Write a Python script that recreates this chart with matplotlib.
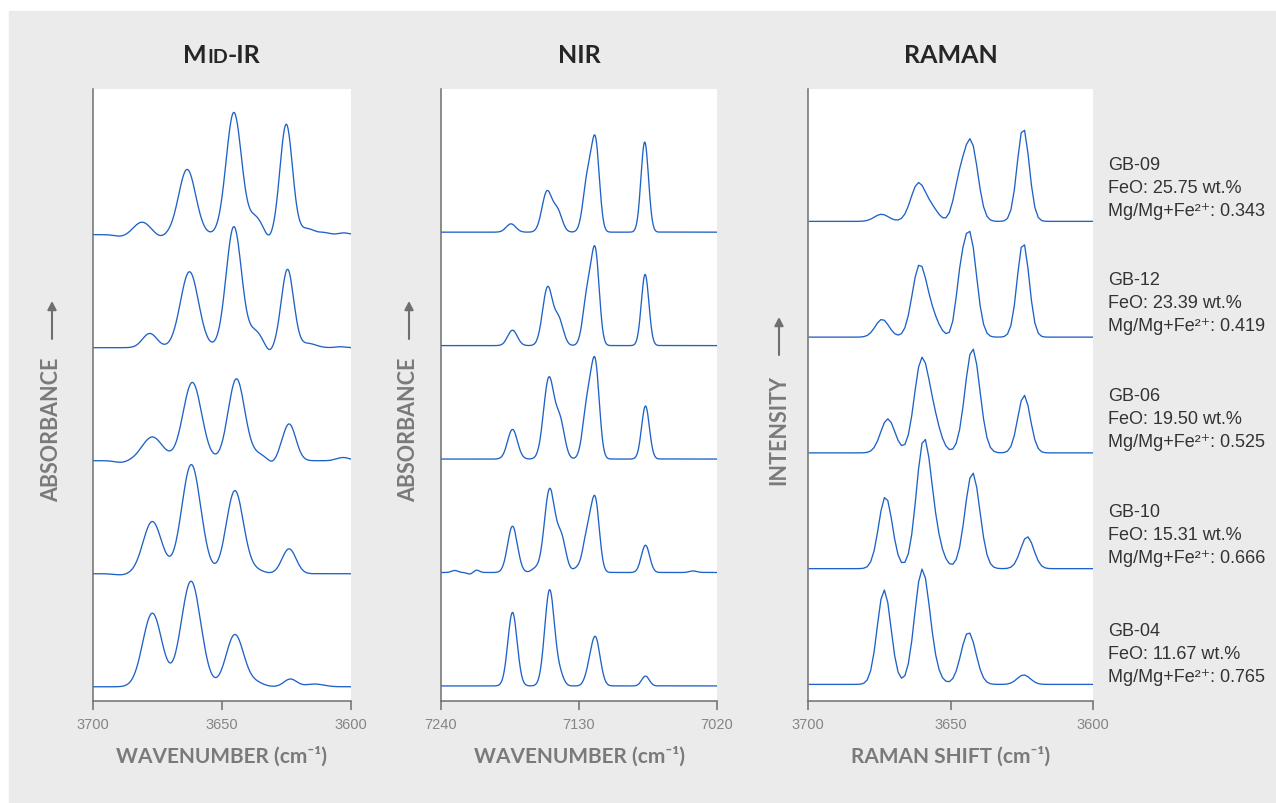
"""Stacked Mid-IR / NIR / Raman spectra of five garnet samples.

Band positions, heights and widths were read off the reference figure;
each trace is drawn as the sum of its bands, offset vertically.
"""
import numpy as np
import matplotlib
matplotlib.use("Agg")
import matplotlib.pyplot as plt
from matplotlib.patches import Rectangle, FancyArrowPatch

W, H = 1276, 804

SAMPLES = ["GB-09", "GB-12", "GB-06", "GB-10", "GB-04"]
FEO = ["25.75", "23.39", "19.50", "15.31", "11.67"]
MG_RATIO = ["0.343", "0.419", "0.525", "0.666", "0.765"]

# (position cm-1, height, width) per band, samples in SAMPLES order
MIDIR_BANDS = [
    [(3689, -1.5, 2.5), (3681, 10.5, 3.2), (3674, -2.0, 2.0), (3663.5, 55, 3.3),
     (3645.4, 103, 3.0), (3637, 14, 2.6), (3631.8, -4, 1.5), (3625.1, 93, 2.4),
     (3617, 5, 3.0), (3610, 1.5, 2.0), (3602.7, 1.5, 2.0)],
    [(3678, 12, 2.8), (3662.6, 64, 3.5), (3645.4, 102, 3.0), (3637, 13, 2.6),
     (3631.6, -4, 1.5), (3624.6, 66, 2.4), (3616.5, 3.5, 3.0), (3604, 0.8, 2.0)],
    [(3689, -1.5, 2.5), (3677, 20, 4.0), (3661.5, 66, 3.6), (3644.4, 69, 3.2),
     (3636, 5, 3.0), (3630.6, -2.5, 1.5), (3624, 31, 2.6), (3603, 2.7, 2.5)],
    [(3689, -1.0, 2.5), (3677, 44, 3.6), (3661.9, 92, 3.7), (3645, 70, 3.3),
     (3637, 3, 3.0), (3624, 21, 2.7)],
    [(3677, 62, 3.7), (3662, 89, 3.8), (3645, 44, 3.4), (3637, 3.5, 3.0),
     (3623.5, 6.5, 2.5), (3614, 2.3, 3.5)],
]
NIR_BANDS = [
    [(7184.2, 7, 3.8), (7155.5, 34, 4.0), (7147, 17, 3.6), (7123, 46, 3.6),
     (7116.7, 70, 3.1), (7077.6, 76, 3.0)],
    [(7183, 13, 3.8), (7155, 49, 4.0), (7146, 21, 3.6), (7123, 45, 3.6),
     (7116.8, 72, 3.1), (7077.3, 60, 3.0)],
    [(7183, 25, 3.9), (7154, 68, 4.2), (7145, 30, 3.6), (7123, 48, 3.7),
     (7116.8, 72, 3.2), (7077, 44.7, 3.1)],
    [(7229, 1.7, 2.5), (7217, -1.3, 2.2), (7211.5, 2.0, 2.2), (7183, 39, 3.9),
     (7165, 3, 3.0), (7153.4, 70, 4.2), (7144, 28, 3.6), (7132, 3, 3.0),
     (7123, 34, 3.7), (7116.8, 55, 3.2), (7077, 23, 3.3), (7039, 1.3, 3.0)],
    [(7183, 62, 3.7), (7153.4, 81, 3.9), (7145, 8, 3.0), (7123, 6, 3.0),
     (7117, 41, 3.8), (7077, 8.3, 3.0)],
]
RAMAN_BANDS = [
    [(3674.2, 6, 2.5), (3661.3, 32, 2.6), (3656.3, 9, 2.2), (3647, 28, 2.0),
     (3642.8, 66, 2.4), (3624.5, 79, 2.1)],
    [(3674, 15, 2.4), (3661, 58, 2.5), (3656.5, 16, 2.5), (3646.8, 28, 1.6),
     (3643.3, 87, 2.4), (3624.5, 80, 2.1)],
    [(3672, 28.7, 2.5), (3660.3, 74, 2.5), (3656, 26, 2.5), (3642.3, 88, 2.6),
     (3624.2, 48.7, 2.2)],
    [(3672.8, 60.7, 2.4), (3659.4, 106, 2.6), (3655, 18, 2.5), (3642.3, 81, 2.6),
     (3623.1, 27, 2.3)],
    [(3673.3, 79.7, 2.4), (3660, 95, 2.6), (3656, 8, 2.5), (3643.7, 44, 2.6),
     (3624.3, 8, 2.3)],
]

TITLES = [[("M", 18), ("ID", 14), ("-IR", 18)], [("NIR", 18)], [("RAMAN", 18)]]
XLABELS = ["WAVENUMBER (cm⁻¹)", "WAVENUMBER (cm⁻¹)", "RAMAN SHIFT (cm⁻¹)"]
YLABELS = ["ABSORBANCE", "ABSORBANCE", "INTENSITY"]
XRANGES = [(3700, 3600), (7240, 7020), (3700, 3600)]
XTICKS = [[3700, 3650, 3600], [7240, 7130, 7020], [3700, 3650, 3600]]

BLUE = "#1f62c7"
GRAY = "#6f6f6f"
LABEL_GRAY = "#7a7a7a"
BG = "#ebebeb"
HEAD = ["Lato", "DejaVu Sans"]
BODY = ["Liberation Sans", "DejaVu Sans"]


def spectrum(x, bands):
    y = np.zeros_like(x)
    for pos, h, w in bands:
        y += h * np.exp(-0.5 * ((x - pos) / w) ** 2)
    return y


def px(x, y):
    return x / W, 1 - y / H


fig = plt.figure(figsize=(W / 100, H / 100), dpi=100, facecolor="white")
fig.patches.append(Rectangle(px(9, H), (W - 9) / W, (H - 12) / H,
                             transform=fig.transFigure, color=BG, zorder=-10))

# axes boxes in pixels: left, right, y offset base, y step, sampling step
panels = [
    dict(x0=93, x1=351, base=12.0, step=95.3, dx=0.2, bands=MIDIR_BANDS),
    dict(x0=441, x1=717, base=12.7, step=95.65, dx=0.2, bands=NIR_BANDS),
    dict(x0=808, x1=1093, base=14.0, step=97.6, dx=1.2, bands=RAMAN_BANDS),
]
top, bottom = 90, 702
ylab_pos = [(52, 340, 358), (409, 340, 358), (779, 356, 375)]

for k, p in enumerate(panels):
    ax = fig.add_axes([p["x0"] / W, 1 - bottom / H,
                       (p["x1"] - p["x0"]) / W, (bottom - top) / H])
    ax.set_facecolor("white")
    lo, hi = sorted(XRANGES[k])
    x = np.arange(lo, hi + p["dx"] / 2, p["dx"])
    for i, bands in enumerate(p["bands"]):
        off = p["base"] + p["step"] * (len(SAMPLES) - 1 - i)
        ax.plot(x, spectrum(x, bands) + off, color=BLUE, lw=0.95)
    ax.set_xlim(*XRANGES[k])
    ax.set_ylim(0, 516)
    ax.set_xticks(XTICKS[k])
    ax.set_yticks([])
    for s in ("top", "right"):
        ax.spines[s].set_visible(False)
    for s in ("left", "bottom"):
        ax.spines[s].set_color(GRAY)
        ax.spines[s].set_linewidth(1.1)
    ax.tick_params(axis="x", direction="out", length=6.5, width=1.1,
                   color=GRAY, labelcolor="#858585", labelsize=10.5, pad=5)
    for t in ax.get_xticklabels():
        t.set_family(BODY)
    xc = (p["x0"] + p["x1"]) / 2
    fig.text(*px(xc, 763), XLABELS[k], ha="center", va="baseline",
             fontsize=15, fontweight="bold", color=LABEL_GRAY, family=HEAD)

    # vertical label with an upward arrow above it
    lx, arrow_bot, text_top = ylab_pos[k]
    fig.text(*px(lx, text_top), YLABELS[k], rotation=90, ha="center",
             va="top", fontsize=15.5, fontweight="bold", color=LABEL_GRAY,
             family=HEAD)
    fig.add_artist(FancyArrowPatch(
        px(lx, arrow_bot), px(lx, arrow_bot - 38), transform=fig.transFigure,
        arrowstyle="-|>,head_length=5,head_width=2.6", color=GRAY, lw=1.5,
        mutation_scale=1, shrinkA=0, shrinkB=0))

    # title, drawn piecewise for the small caps
    r = fig.canvas.get_renderer()
    parts = [fig.text(0, 1 - 63 / H, s, fontsize=sz, fontweight="bold",
                      color="#262626", family=HEAD, va="baseline")
             for s, sz in TITLES[k]]
    widths = [t.get_window_extent(r).width for t in parts]
    xs = xc - sum(widths) / 2
    for t, w in zip(parts, widths):
        t.set_x(xs / W)
        xs += w

# sample annotations on the right
block_y = [170, 285, 401, 517, 636]
for i, name in enumerate(SAMPLES):
    lines = [name, f"FeO: {FEO[i]} wt.%", f"Mg/Mg+Fe²⁺: {MG_RATIO[i]}"]
    for j, s in enumerate(lines):
        fig.text(*px(1108, block_y[i] + 23 * j), s, ha="left", va="baseline",
                 fontsize=13, color="#333333", family=BODY)

fig.savefig("out.png", dpi=100, facecolor=fig.get_facecolor())
